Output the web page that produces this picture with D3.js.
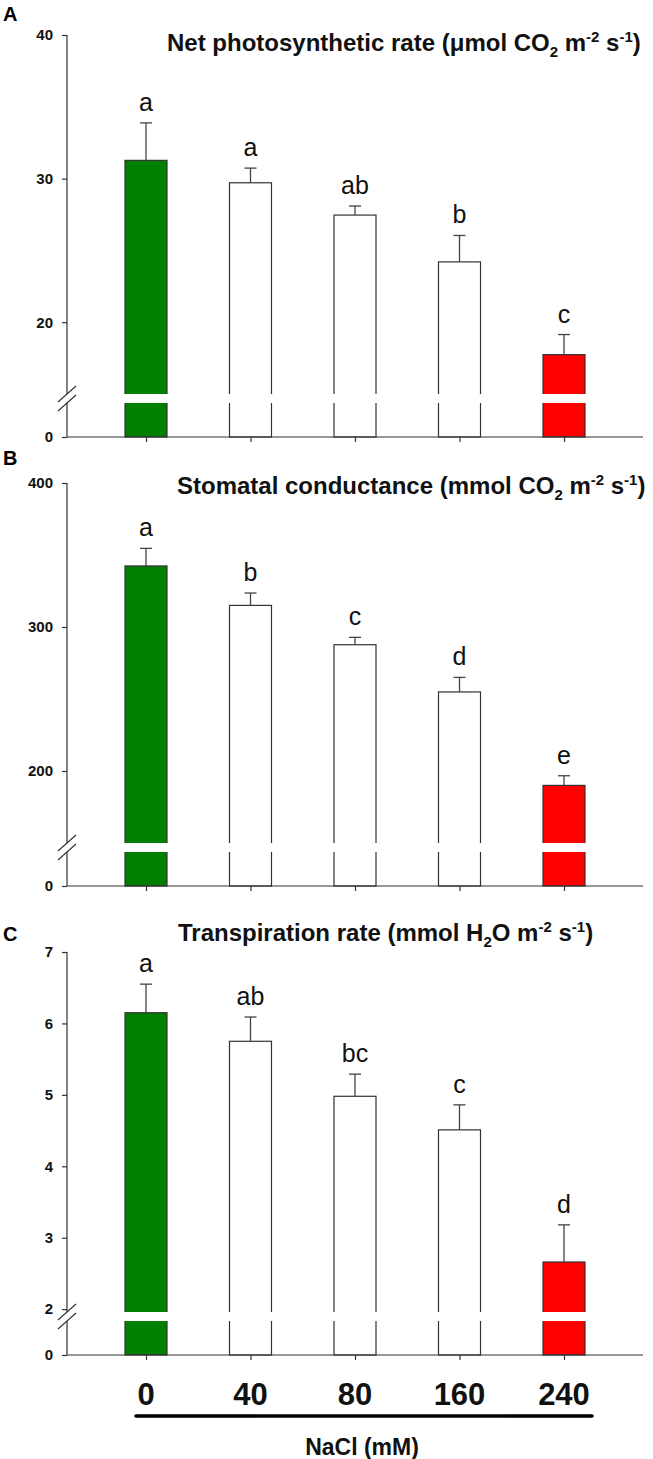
<!DOCTYPE html>
<html>
<head>
<meta charset="utf-8">
<script src="https://cdn.jsdelivr.net/npm/d3@7"></script>
<style>
  body { margin: 0; background: #fff; }
  svg { display: block; font-family: "Liberation Sans", Arial, sans-serif; }
</style>
</head>
<body>
<svg id="chart" width="653" height="1459"></svg>
<script>
var categories = ["0", "40", "80", "160", "240"];

var photoMeans = [31.27, 29.71, 27.46, 24.2, 17.74];
var photoErrors = [2.61, 1.02, 0.63, 1.84, 1.4];
var photoLetters = ["a", "a", "ab", "b", "c"];
var photoTicks = [0, 20, 30, 40];

var stomMeans = [342.4, 315.0, 287.7, 254.9, 190.0];
var stomErrors = [12.2, 8.6, 5.1, 10.1, 6.7];
var stomLetters = ["a", "b", "c", "d", "e"];
var stomTicks = [0, 200, 300, 400];

var transMeans = [6.15, 5.75, 4.98, 4.51, 2.66];
var transErrors = [0.4, 0.34, 0.31, 0.35, 0.52];
var transLetters = ["a", "ab", "bc", "c", "d"];
var transTicks = [0, 2, 3, 4, 5, 6, 7];

var barColors = ["#007f00", "#ffffff", "#ffffff", "#ffffff", "#ff0000"];

var svg = d3.select("#chart");
var axisLeft = 67;
var axisRight = 643;
var barWidth = 42;
var lowerPx = 34;   // height of the segment below the axis break
var gapPx = 9;      // height of the white break band

var x = d3.scalePoint()
    .domain(categories)
    .range([146, 564]);

var panels = [
    { label: "A", top: 35, zero: 437, domain: [0, 2.5, 15, 40], means: photoMeans, errors: photoErrors,
      letters: photoLetters, ticks: photoTicks, titleX: 167, titleY: 51, labelY: 21,
      title: [["Net photosynthetic rate (\u03bcmol CO", 0], ["2", 1], [" m", 0], ["-2", -1], [" s", 0], ["-1", -1], [")", 0]] },
    { label: "B", top: 483, zero: 886, domain: [0, 25, 150, 400], means: stomMeans, errors: stomErrors,
      letters: stomLetters, ticks: stomTicks, titleX: 177, titleY: 494, labelY: 465,
      title: [["Stomatal conductance (mmol CO", 0], ["2", 1], [" m", 0], ["-2", -1], [" s", 0], ["-1", -1], [")", 0]] },
    { label: "C", top: 952, zero: 1355, domain: [0, 0.5, 1.96, 7], means: transMeans, errors: transErrors,
      letters: transLetters, ticks: transTicks, titleX: 178, titleY: 941, labelY: 941,
      title: [["Transpiration rate (mmol H", 0], ["2", 1], ["O m", 0], ["-2", -1], [" s", 0], ["-1", -1], [")", 0]] }
];

// plain text, subscript (1) and superscript (-1) runs, each undoing the previous shift
function addRichText(sel, parts) {
    var prev = 0;
    parts.forEach(function (p) {
        var shift = p[1] === 1 ? 6 : p[1] === -1 ? -9 : 0;
        sel.append("tspan")
            .attr("dy", shift - prev)
            .attr("font-size", p[1] === 0 ? null : "15px")
            .text(p[0]);
        prev = shift;
    });
}

panels.forEach(function (p, pi) {
    var g = svg.append("g");
    var gapBottom = p.zero - lowerPx;
    var gapTop = gapBottom - gapPx;

    var y = d3.scaleLinear()
        .domain(p.domain)
        .range([p.zero, gapBottom, gapTop, p.top]);

    // panel letter
    g.append("text")
        .attr("x", 3)
        .attr("y", p.labelY)
        .attr("font-size", "20px")
        .attr("font-weight", "bold")
        .text(p.label);

    // title
    var title = g.append("text")
        .attr("x", p.titleX)
        .attr("y", p.titleY)
        .attr("font-size", "24px")
        .attr("font-weight", "bold")
        .attr("fill", "#111");
    addRichText(title, p.title);

    // bars
    g.selectAll("rect.bar")
        .data(p.means)
        .enter()
        .append("rect")
        .attr("class", "bar")
        .attr("x", function (d, i) { return x(categories[i]) - barWidth / 2; })
        .attr("y", function (d) { return y(d); })
        .attr("width", barWidth)
        .attr("height", function (d) { return p.zero - y(d); })
        .attr("fill", function (d, i) { return barColors[i]; })
        .attr("stroke", "#333")
        .attr("stroke-width", 1.2);

    // error bars (upper only)
    g.selectAll("line.err")
        .data(p.means)
        .enter()
        .append("line")
        .attr("class", "err")
        .attr("x1", function (d, i) { return x(categories[i]); })
        .attr("x2", function (d, i) { return x(categories[i]); })
        .attr("y1", function (d) { return y(d); })
        .attr("y2", function (d, i) { return y(d + p.errors[i]); })
        .attr("stroke", "#444")
        .attr("stroke-width", 1.3);

    g.selectAll("line.cap")
        .data(p.means)
        .enter()
        .append("line")
        .attr("class", "cap")
        .attr("x1", function (d, i) { return x(categories[i]) - 6; })
        .attr("x2", function (d, i) { return x(categories[i]) + 6; })
        .attr("y1", function (d, i) { return y(d + p.errors[i]); })
        .attr("y2", function (d, i) { return y(d + p.errors[i]); })
        .attr("stroke", "#444")
        .attr("stroke-width", 1.3);

    // significance letters
    g.selectAll("text.sig")
        .data(p.letters)
        .enter()
        .append("text")
        .attr("class", "sig")
        .attr("x", function (d, i) { return x(categories[i]); })
        .attr("y", function (d, i) { return y(p.means[i] + p.errors[i]) - 12; })
        .attr("text-anchor", "middle")
        .attr("font-size", "25px")
        .attr("fill", "#111")
        .text(function (d) { return d; });

    // white break band across the bars
    g.append("rect")
        .attr("x", axisLeft + 2)
        .attr("y", gapTop)
        .attr("width", axisRight - axisLeft)
        .attr("height", gapPx)
        .attr("fill", "#fff");

    // y axis, drawn in two pieces around the break
    var upper = d3.axisLeft(y).tickValues(p.ticks.filter(function (t) { return t >= p.domain[2]; }))
        .tickSize(5).tickSizeOuter(0).tickFormat(d3.format("d"));
    var lower = d3.axisLeft(y).tickValues(p.ticks.filter(function (t) { return t <= p.domain[1]; }))
        .tickSize(5).tickSizeOuter(0).tickFormat(d3.format("d"));

    [upper, lower].forEach(function (ax) {
        var a = g.append("g")
            .attr("transform", "translate(" + axisLeft + ",0)")
            .call(ax);
        a.select(".domain").remove();
        a.selectAll("line").attr("stroke", "#333").attr("stroke-width", 1.2);
        a.selectAll("text")
            .attr("font-size", "15px")
            .attr("font-weight", "bold")
            .attr("font-family", "'Liberation Sans', Arial, sans-serif")
            .attr("fill", "#111")
            .attr("x", -14);
    });

    g.append("line")
        .attr("x1", axisLeft).attr("x2", axisLeft)
        .attr("y1", p.top).attr("y2", gapTop)
        .attr("stroke", "#333").attr("stroke-width", 1.2);
    g.append("line")
        .attr("x1", axisLeft).attr("x2", axisLeft)
        .attr("y1", gapBottom).attr("y2", p.zero)
        .attr("stroke", "#333").attr("stroke-width", 1.2);

    // break slashes
    [gapTop, gapBottom].forEach(function (yy) {
        g.append("line")
            .attr("x1", axisLeft - 9).attr("y1", yy + 8)
            .attr("x2", axisLeft + 9).attr("y2", yy - 8)
            .attr("stroke", "#333").attr("stroke-width", 1.2);
    });

    // x axis
    var xa = g.append("g")
        .attr("transform", "translate(0," + p.zero + ")")
        .call(d3.axisBottom(x).tickSize(5).tickSizeOuter(0).tickFormat(""));
    xa.select(".domain").remove();
    xa.selectAll("line").attr("stroke", "#333").attr("stroke-width", 1.2);
    g.append("line")
        .attr("x1", axisLeft).attr("x2", axisRight)
        .attr("y1", p.zero).attr("y2", p.zero)
        .attr("stroke", "#333").attr("stroke-width", 1.2);

    // category labels under the last panel only
    if (pi === panels.length - 1) {
        g.selectAll("text.cat")
            .data(categories)
            .enter()
            .append("text")
            .attr("class", "cat")
            .attr("x", function (d) { return x(d); })
            .attr("y", 1405)
            .attr("text-anchor", "middle")
            .attr("font-size", "31px")
            .attr("font-weight", "bold")
            .attr("fill", "#111")
            .text(function (d) { return d; });
    }
});

// treatment bar and axis title
svg.append("line")
    .attr("x1", 136).attr("x2", 592)
    .attr("y1", 1416).attr("y2", 1416)
    .attr("stroke", "#000")
    .attr("stroke-width", 3.5)
    .attr("stroke-linecap", "round");

svg.append("text")
    .attr("x", 362)
    .attr("y", 1455)
    .attr("text-anchor", "middle")
    .attr("font-size", "23px")
    .attr("font-weight", "bold")
    .attr("fill", "#111")
    .text("NaCl (mM)");
</script>
</body>
</html>
